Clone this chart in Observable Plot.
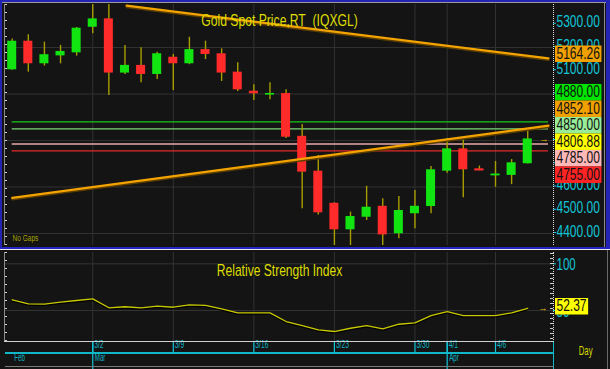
<!DOCTYPE html>
<html><head><meta charset="utf-8">
<script src="https://cdn.jsdelivr.net/npm/d3@7"></script>
<script src="https://cdn.jsdelivr.net/npm/@observablehq/plot@0.6"></script>
<style>
body{margin:0;background:#141414;}
#wrap{position:relative;width:610px;height:369px;background:#141414;overflow:hidden;}
#wrap svg{position:absolute;left:0;background:transparent;}
.deco{position:absolute;}
</style></head><body><div id="wrap"></div>
<script>
// ---------- data ----------
const dates = ["2/23","2/24","2/25","2/26","2/27","3/2","3/3","3/4","3/5","3/6","3/9","3/10","3/11","3/12","3/13","3/16","3/17","3/18","3/19","3/20","3/23","3/24","3/25","3/26","3/27","3/30","3/31","4/1","4/2","4/3","4/6","4/7","4/8"];
const open  = [5104,5227,5130,5164,5177,5287,5323,5090,5123,5084,5158,5130,5191,5173,5094,5012,5000,5002,4818,4668,4530,4416,4470,4517,4399,4485,4516,4668,4764,4678,4652,4650,4700];
const high  = [5237,5255,5223,5209,5286,5410,5400,5209,5199,5180,5170,5244,5227,5194,5134,5040,5048,5018,4869,4736,4532,4492,4603,4549,4559,4585,4688,4807,4803,4690,4710,4718,4850];
const low   = [5102,5094,5120,5130,5163,5259,4994,5084,5048,5062,5015,5126,5148,5054,5011,4972,4975,4809,4506,4480,4330,4330,4456,4330,4377,4420,4485,4659,4554,4670,4599,4610,4699];
const close = [5227,5130,5169,5183,5283,5323,5090,5123,5084,5173,5130,5191,5170,5090,5018,5001,5002,4814,4664,4489,4416,4473,4513,4394,4499,4517,4674,4764,4674,4671,4655,4704,4806.88];
const rsi   = [61.5,57.2,56.8,58.9,60.7,62.5,52.9,54.0,52.9,54.6,53.5,56.1,55.4,51.8,47.5,47.5,47.5,38.2,33.9,29.3,27.5,31.0,33.9,30.4,35.3,36.8,44.6,48.9,44.6,44.6,44.6,47.5,52.37];

const priceTicks = [5300,5200,5100,5000,4900,4800,4700,4600,4500,4400];
const priceGrid  = [5200,5000,4800,4600,4400];
const weekTicks  = ["3/2","3/9","3/16","3/23","3/30","4/1","4/6"];
const monthStarts = ["2/23","3/2","4/1"];
const monthNames  = ["Feb","Mar","Apr"];

const levelValues = [4880,4850,4785,4755];
const levelColors = ["#16c816","#78d878","#e8a8a8","#e42a2a"];
const levelSpan   = [0,33.29];                 // bar index extent of the level lines
const trendDownIdx = [7.1,33.29], trendDownVal = [5380.3,5153.1];
const trendUpIdx   = [0,33.29], trendUpVal   = [4553.2,4864.1];

const labelValues = [5164.26,4880,4852.10,4850,4806.88,4785,4755];
const labelColors = ["#f0a000","#00e400","#f0a000","#98ec98","#ffff00","#ffb8b8","#ff2424"];

const rsiTicks = [100,50];
const rsiGrid  = [100,50];
const rsiLast  = 52.37;

// ---------- setup ----------
const FONT = "'Liberation Sans', Arial, sans-serif";
const CYAN = "#12c6d6", GREEN = "#12e412", RED = "#ff2a2a", WICK = "#a89e00", ORANGE = "#f4a400";
const xDomain = [-0.416, 33.6];
const yDomain = [4348.4, 5384.9];
const candles = dates.map((d,i)=>({i, o:open[i], h:high[i], l:low[i], c:close[i]}));
const weekIdx  = weekTicks.map(t=>dates.indexOf(t));
const monthIdx = monthStarts.map(t=>dates.indexOf(t));
const half = 0.28;
const BOX = 16.5;

// stacked right-hand value labels (collision resolution)
const yPix = d3.scaleLinear(yDomain,[245,4]);
function stack(values, h){
  const items = values.map((v,i)=>({i,v,p:yPix(v)})).sort((a,b)=>a.p-b.p);
  let cl = items.map(d=>({items:[d], c:d.p}));
  let merged = true;
  while(merged){
    merged = false;
    for(let k=1;k<cl.length;k++){
      const a=cl[k-1], b=cl[k];
      if(a.c + a.items.length*h/2 > b.c - b.items.length*h/2){
        const it=a.items.concat(b.items);
        cl.splice(k-1,2,{items:it, c:d3.mean(it,d=>d.p)});
        merged = true; break;
      }
    }
  }
  const out=[];
  cl.forEach(g=>g.items.forEach((d,j)=>{ out[d.i] = yPix.invert(g.c + (j-(g.items.length-1)/2)*h); }));
  return out;
}
const labelPos = stack(labelValues, BOX);
const labelText = labelValues.map(v=>v.toFixed(2));
// tick labels fully covered by a value box are not drawn (as in the terminal)
const shownTicks = priceTicks.filter(v=>!labelPos.some(p=>Math.abs(yPix(p)-yPix(v))<BOX/2));
const tickText  = shownTicks.map(v=>v.toFixed(2));

const wrap = document.getElementById("wrap");

// ---------- price panel ----------
const priceSvg = Plot.plot({
  width:610, height:248, marginLeft:5, marginRight:57, marginTop:4, marginBottom:3,
  style:{background:"transparent", fontFamily:FONT},
  x:{domain:xDomain, axis:null},
  y:{domain:yDomain, axis:null},
  marks:[
    Plot.ruleY(priceGrid,{stroke:"#323232"}),
    Plot.ruleX(weekIdx,{x:d=>d, stroke:"#323232"}),
    Plot.ruleY(levelValues,{y:d=>d, x1:()=>levelSpan[0], x2:()=>levelSpan[1], stroke:(d,i)=>levelColors[i], strokeWidth:1.3}),
    Plot.ruleX(candles,{x:"i", y1:"l", y2:"h", stroke:WICK, strokeWidth:1.4, clip:true}),
    Plot.rect(candles,{x1:d=>d.i-half, x2:d=>d.i+half, y1:"o", y2:"c", fill:d=>d.c>=d.o?GREEN:RED}),
    Plot.ruleY(candles.filter(d=>Math.abs(d.c-d.o)<8),{y:d=>(d.o+d.c)/2, x1:d=>d.i-half, x2:d=>d.i+half, stroke:d=>d.c>=d.o?GREEN:RED, strokeWidth:1.6}),
    Plot.line(trendDownIdx.map((x,i)=>({x,v:trendDownVal[i]})),{x:"x", y:"v", stroke:"#5c3e00", strokeWidth:2, dy:1.6, clip:true}),
    Plot.line(trendDownIdx.map((x,i)=>({x,v:trendDownVal[i]})),{x:"x", y:"v", stroke:ORANGE, strokeWidth:2.2, clip:true}),
    Plot.line(trendUpIdx.map((x,i)=>({x,v:trendUpVal[i]})),{x:"x", y:"v", stroke:"#5c3e00", strokeWidth:2, dy:1.6, clip:true}),
    Plot.line(trendUpIdx.map((x,i)=>({x,v:trendUpVal[i]})),{x:"x", y:"v", stroke:ORANGE, strokeWidth:2.2, clip:true}),
    Plot.text(["Gold Spot Price,RT\u00a0 (IQXGL)"],{frameAnchor:"top", dy:10, fill:"#dede00", fontSize:16}),
    Plot.text(["No Gaps"],{frameAnchor:"bottom-left", dx:7, dy:-4.5, fill:"#a8a400", fontSize:9.5, textAnchor:"start"}),
    Plot.ruleY(priceTicks,{y:d=>d, stroke:CYAN, insetLeft:548, insetRight:-3, dy:-1}),
    Plot.text(shownTicks,{y:d=>d, text:(d,i)=>tickText[i], frameAnchor:"right", textAnchor:"start", dx:3, dy:-2, fill:CYAN, fontSize:16}),
    Plot.text(labelPos,{y:d=>d, text:(d,i)=>labelText[i], frameAnchor:"right", textAnchor:"start", dx:3, dy:-2, fill:"#111", fontSize:16}),
    Plot.text([close[close.length-1]],{y:d=>d, text:["\u2192"], frameAnchor:"right", dx:-5, fill:"#e8c000", fontSize:9})
  ]
});
priceSvg.style.top = "0px";
wrap.appendChild(priceSvg);

// ---------- RSI panel ----------
const rsiSvg = Plot.plot({
  width:610, height:119, marginLeft:5, marginRight:57, marginTop:2, marginBottom:27,
  style:{background:"transparent", fontFamily:FONT},
  x:{domain:xDomain, axis:null},
  y:{domain:[15.74,112.1], axis:null},
  marks:[
    Plot.ruleY(rsiGrid,{stroke:"#323232"}),
    Plot.ruleX(weekIdx,{x:d=>d, stroke:"#323232"}),
    Plot.line(rsi,{x:(d,i)=>i, y:d=>d, stroke:"#000", strokeWidth:1.4, dy:1.2}),
    Plot.line(rsi,{x:(d,i)=>i, y:d=>d, stroke:"#c8c800", strokeWidth:1.3}),
    Plot.text(["Relative Strength Index"],{frameAnchor:"top", dy:12, fill:"#dede00", fontSize:16}),
    Plot.ruleY(rsiTicks,{y:d=>d, stroke:CYAN, insetLeft:548, insetRight:-3}),
    Plot.text(rsiTicks,{y:d=>d, text:d=>String(d), frameAnchor:"right", textAnchor:"start", dx:3, dy:1.5, fill:CYAN, fontSize:16}),
    Plot.text([rsiLast],{y:d=>d, text:d=>d.toFixed(2), frameAnchor:"right", textAnchor:"start", dx:3, dy:-2, fill:"#111", fontSize:16}),
    Plot.text([rsiLast],{y:d=>d, text:["\u2192"], frameAnchor:"right", dx:-6, fill:"#e8c000", fontSize:9}),
    // date strip
    Plot.ruleX(weekIdx,{x:d=>d, stroke:CYAN, strokeWidth:1.2, insetTop:90, insetBottom:-10.7}),
    Plot.ruleX(monthIdx.filter(d=>d>0),{x:d=>d, stroke:CYAN, strokeWidth:1.2, insetTop:90, insetBottom:-27}),
    Plot.text(weekIdx,{x:d=>d, text:(d,i)=>weekTicks[i], frameAnchor:"bottom", dy:5.8, dx:1.5, textAnchor:"start", fill:"#10b4c4", fontSize:10}),
    Plot.text(monthIdx,{x:d=>d, text:(d,i)=>monthNames[i], frameAnchor:"bottom", dy:18, dx:2, textAnchor:"start", fill:"#10b4c4", fontSize:10}),
    Plot.text(["Day"],{frameAnchor:"bottom-right", dx:39, dy:12, fill:"#d8d800", fontSize:12.5})
  ]
});
rsiSvg.style.top = "250px";
wrap.appendChild(rsiSvg);

// ---------- text condensing (horizontal scale about the anchor) & label boxes ----------
function pick(svg, pred){ return [...svg.querySelectorAll("text")].filter(t=>pred(t.textContent.trim())); }
function condense(list, sx){
  list.forEach(t=>{
    const ax = +(t.getAttribute("x")||0);
    const tr = t.getAttribute("transform")||"";
    t.setAttribute("transform", `${tr} translate(${ax},0) scale(${sx},1) translate(${-ax},0)`);
  });
}
function boxes(list, colorOf, h){
  list.forEach(t=>{
    const bb = t.getBBox();
    const r = document.createElementNS("http://www.w3.org/2000/svg","rect");
    r.setAttribute("x", bb.x-2); r.setAttribute("width", bb.width+4);
    r.setAttribute("y", bb.y+bb.height/2-h/2+0.5); r.setAttribute("height", h);
    r.setAttribute("fill", colorOf(t.textContent.trim()));
    const tr = t.getAttribute("transform"); if(tr) r.setAttribute("transform", tr);
    t.parentNode.insertBefore(r, t);
  });
}
condense(pick(priceSvg, s=>s.startsWith("Gold")), 0.76);
condense(pick(priceSvg, s=>s==="No Gaps"), 0.69);
condense(pick(priceSvg, s=>tickText.includes(s)), 0.75);
const valTexts = pick(priceSvg, s=>labelText.includes(s));
condense(valTexts, 0.75);
boxes(valTexts, s=>labelColors[labelText.indexOf(s)], BOX);
condense(pick(rsiSvg, s=>s.startsWith("Relative")), 0.755);
condense(pick(rsiSvg, s=>s==="100"||s==="50"), 0.72);
const rsiLab = pick(rsiSvg, s=>s===rsiLast.toFixed(2));
condense(rsiLab, 0.75);
boxes(rsiLab, ()=>"#ffff00", BOX);
condense(pick(rsiSvg, s=>weekTicks.includes(s)), 0.67);
condense(pick(rsiSvg, s=>monthNames.includes(s)), 0.62);
condense(pick(rsiSvg, s=>s==="Day"), 0.62);

// ---------- frame decorations ----------
function deco(css){ const d=document.createElement("div"); d.className="deco"; Object.assign(d.style,css); wrap.appendChild(d); }
deco({left:"0px",top:"0px",width:"610px",height:"2px",background:"#2424b4"});
deco({left:"2px",top:"2px",width:"604px",height:"1px",background:"#9a9a9a"});
deco({left:"0px",top:"0px",width:"2px",height:"249px",background:"#2424b4"});
deco({left:"606px",top:"0px",width:"4px",height:"249px",background:"#2424b4"});
deco({left:"604px",top:"2px",width:"1px",height:"245px",background:"#8a8a8a"});
deco({left:"0px",top:"247px",width:"610px",height:"2px",background:"#2424c0"});
deco({left:"0px",top:"249px",width:"610px",height:"1px",background:"#e8e8e8"});
deco({left:"607px",top:"250px",width:"1px",height:"119px",background:"#6a6a6a"});
deco({left:"553px",top:"4px",width:"0px",height:"241px",borderLeft:"1px dotted #dcdcdc"});
deco({left:"553px",top:"252px",width:"0px",height:"90px",borderLeft:"1px dotted #dcdcdc"});
deco({left:"550px",top:"253px",width:"3px",height:"88px",background:"repeating-linear-gradient(to bottom,#cfcfcf 0 1px,transparent 1px 5px)"});
deco({left:"4px",top:"4px",width:"3px",height:"241px",background:"repeating-linear-gradient(to bottom,#cfcfcf 0 1px,transparent 1px 8px)"});
deco({left:"4px",top:"252px",width:"3px",height:"90px",background:"repeating-linear-gradient(to bottom,#cfcfcf 0 1px,transparent 1px 8px)"});
deco({left:"4px",top:"4px",width:"1px",height:"241px",background:"#8a8a8a"});
deco({left:"4px",top:"252px",width:"1px",height:"90px",background:"#8a8a8a"});
deco({left:"4px",top:"341px",width:"550px",height:"1px",background:"#d0d0d0"});
deco({left:"5px",top:"352px",width:"549px",height:"1.5px",background:"#10b8c8"});
deco({left:"553px",top:"342px",width:"1.2px",height:"27px",background:"#10b8c8"});
deco({left:"5px",top:"366px",width:"549px",height:"1px",background:"#7a7a7a"});
</script></body></html>
